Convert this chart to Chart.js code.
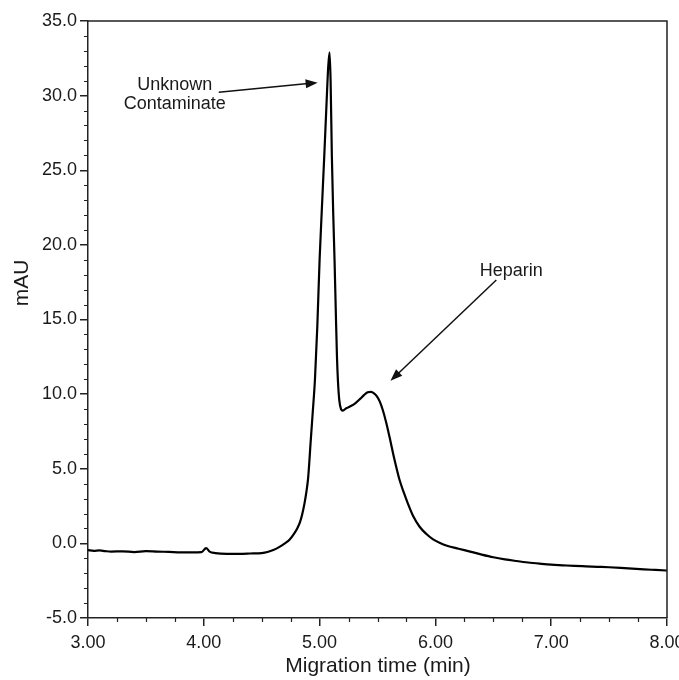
<!DOCTYPE html>
<html>
<head>
<meta charset="utf-8">
<script src="https://cdn.jsdelivr.net/npm/chart.js@4.4.1/dist/chart.umd.min.js"></script>
<style>
  html, body { margin: 0; padding: 0; background: #fff; }
  canvas { display: block; }
</style>
</head>
<body>
<canvas id="electropherogram" width="679" height="680"></canvas>
<script>
// migration time (min) and detector response (mAU)
const migrationTime = [
  3.00, 3.05, 3.10, 3.15, 3.20, 3.30, 3.40, 3.50, 3.60, 3.70, 3.80, 3.90, 3.98, 4.02, 4.05,
  4.10, 4.20, 4.30, 4.40, 4.50, 4.55, 4.60, 4.65, 4.70, 4.74, 4.78, 4.81, 4.83, 4.85, 4.87,
  4.885, 4.90, 4.91, 4.92, 4.93, 4.94, 4.96, 4.98, 5.00, 5.02, 5.04, 5.06, 5.075, 5.086, 5.095,
  5.106, 5.118, 5.129, 5.14, 5.15, 5.158, 5.17, 5.185, 5.20, 5.23, 5.27, 5.31, 5.35, 5.385, 5.415,
  5.445, 5.47, 5.495, 5.52, 5.545, 5.575, 5.603, 5.647, 5.69, 5.73, 5.761, 5.81, 5.862, 5.92, 5.977,
  6.04, 6.10, 6.20, 6.30, 6.40, 6.50, 6.60, 6.70, 6.80, 6.90, 7.00, 7.10, 7.20, 7.30, 7.40,
  7.50, 7.60, 7.70, 7.80, 7.90, 8.00
];
const absorbance = [
  -0.45, -0.50, -0.47, -0.52, -0.55, -0.53, -0.58, -0.52, -0.55, -0.57, -0.60, -0.60, -0.58, -0.32, -0.55,
  -0.65, -0.70, -0.70, -0.68, -0.65, -0.58, -0.45, -0.25, 0.00, 0.24, 0.65, 1.05, 1.40, 1.95, 2.70,
  3.40, 4.30, 5.30, 6.50, 7.60, 8.70, 11.0, 14.5, 19.0, 22.5, 25.9, 29.5, 32.0, 32.9, 31.0,
  25.9, 22.0, 19.0, 15.5, 12.5, 10.95, 9.60, 9.00, 8.90, 9.05, 9.20, 9.40, 9.68, 9.95, 10.12,
  10.15, 10.05, 9.85, 9.50, 8.95, 8.10, 7.16, 5.60, 4.26, 3.35, 2.70, 1.80, 1.13, 0.64, 0.28,
  0.02, -0.16, -0.36, -0.55, -0.75, -0.93, -1.07, -1.18, -1.28, -1.36, -1.43, -1.47, -1.51, -1.54, -1.57,
  -1.60, -1.64, -1.69, -1.74, -1.78, -1.82
];
const peakLabels = [['Unknown', 'Contaminate'], ['Heparin']];

const points = migrationTime.map((t, i) => ({ x: t, y: absorbance[i] }));
const fontFamily = '"Liberation Sans", Arial, sans-serif';
const ink = '#1a1a1a';

function arrow(ctx, x1, y1, x2, y2) {
  const a = Math.atan2(y2 - y1, x2 - x1);
  const len = 12, half = 4.5;
  ctx.beginPath();
  ctx.moveTo(x1, y1);
  ctx.lineTo(x2 - Math.cos(a) * len * 0.8, y2 - Math.sin(a) * len * 0.8);
  ctx.stroke();
  ctx.beginPath();
  ctx.moveTo(x2, y2);
  ctx.lineTo(x2 - Math.cos(a) * len + Math.sin(a) * half, y2 - Math.sin(a) * len - Math.cos(a) * half);
  ctx.lineTo(x2 - Math.cos(a) * len - Math.sin(a) * half, y2 - Math.sin(a) * len + Math.cos(a) * half);
  ctx.closePath();
  ctx.fill();
}

const decorations = {
  id: 'decorations',
  beforeDraw(chart) {
    const ctx = chart.ctx;
    ctx.save();
    ctx.fillStyle = '#fff';
    ctx.fillRect(0, 0, chart.width, chart.height);
    ctx.restore();
  },
  afterDraw(chart) {
    const { ctx, chartArea: a } = chart;
    const x = chart.scales.x, y = chart.scales.y;
    ctx.save();
    ctx.strokeStyle = '#222';
    ctx.lineWidth = 1.5;
    // top and right frame
    ctx.beginPath();
    ctx.moveTo(a.left, a.top);
    ctx.lineTo(a.right, a.top);
    ctx.lineTo(a.right, a.bottom);
    ctx.stroke();
    // minor ticks
    ctx.lineWidth = 1.2;
    ctx.beginPath();
    for (let i = -5; i <= 35; i++) {
      if (i % 5 === 0) continue;
      const py = Math.round(y.getPixelForValue(i)) + 0.5;
      ctx.moveTo(a.left - 4, py);
      ctx.lineTo(a.left, py);
    }
    for (let i = 0; i <= 20; i++) {
      if (i % 4 === 0) continue;
      const px = Math.round(x.getPixelForValue(3 + i * 0.25)) + 0.5;
      ctx.moveTo(px, a.bottom);
      ctx.lineTo(px, a.bottom + 4);
    }
    ctx.stroke();

    // axis titles
    ctx.fillStyle = ink;
    ctx.font = '21px ' + fontFamily;
    ctx.textAlign = 'center';
    ctx.textBaseline = 'middle';
    ctx.fillText('Migration time (min)', 378, 666);
    ctx.save();
    ctx.translate(22, 283);
    ctx.rotate(-Math.PI / 2);
    ctx.fillText('mAU', 0, 0);
    ctx.restore();

    // peak annotations
    ctx.font = '18px ' + fontFamily;
    const cx = x.getPixelForValue(3.75);
    ctx.fillText(peakLabels[0][0], cx, y.getPixelForValue(30.72));
    ctx.fillText(peakLabels[0][1], cx, y.getPixelForValue(29.45));
    ctx.fillText(peakLabels[1][0], x.getPixelForValue(6.655), y.getPixelForValue(18.25));

    ctx.strokeStyle = '#111';
    ctx.fillStyle = '#111';
    ctx.lineWidth = 1.5;
    arrow(ctx, x.getPixelForValue(4.129), y.getPixelForValue(30.22),
               x.getPixelForValue(4.983), y.getPixelForValue(30.87));
    arrow(ctx, x.getPixelForValue(6.526), y.getPixelForValue(17.65),
               x.getPixelForValue(5.612), y.getPixelForValue(10.89));
    ctx.restore();
  }
};

new Chart(document.getElementById('electropherogram'), {
  type: 'line',
  data: {
    datasets: [{
      data: points,
      borderColor: '#000',
      borderWidth: 2.2,
      pointRadius: 0,
      cubicInterpolationMode: 'monotone',
      fill: false
    }]
  },
  options: {
    responsive: false,
    animation: false,
    layout: { padding: { top: 21, right: 12, left: 0, bottom: 0 } },
    plugins: { legend: { display: false }, tooltip: { enabled: false } },
    scales: {
      x: {
        type: 'linear',
        min: 3, max: 8,
        grid: { drawOnChartArea: false, drawTicks: true, tickLength: 8, color: '#222', lineWidth: 1.5 },
        border: { color: '#222', width: 1.5 },
        ticks: {
          stepSize: 1,
          padding: 6,
          color: ink,
          font: { family: fontFamily, size: 18 },
          maxRotation: 0,
          callback: v => v.toFixed(2)
        },
        afterFit(s) { s.height = 62; s.paddingLeft = 0; s.paddingRight = 0; }
      },
      y: {
        min: -5, max: 35,
        grid: { drawOnChartArea: false, drawTicks: true, tickLength: 8, color: '#222', lineWidth: 1.5 },
        border: { color: '#222', width: 1.5 },
        ticks: {
          stepSize: 5,
          padding: 3,
          color: ink,
          font: { family: fontFamily, size: 18 },
          callback: v => v.toFixed(1)
        },
        afterFit(s) { s.width = 88; s.paddingTop = 0; s.paddingBottom = 0; }
      }
    }
  },
  plugins: [decorations]
});
</script>
</body>
</html>
